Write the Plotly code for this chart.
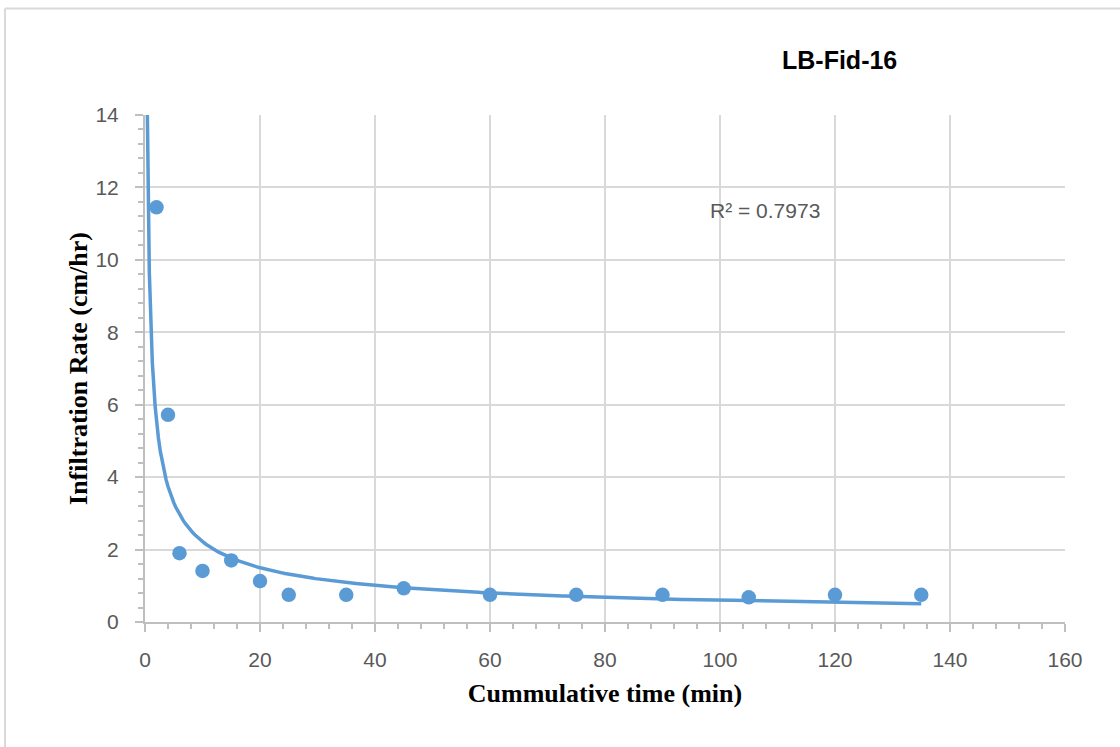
import numpy as np
import plotly.graph_objects as go

# Cumulative time (min) and measured infiltration rate (cm/hr)
time_min = [2, 4, 6, 10, 15, 20, 25, 35, 45, 60, 75, 90, 105, 120, 135]
rate_cmhr = [11.45, 5.72, 1.9, 1.41, 1.7, 1.13, 0.75, 0.75, 0.93, 0.75, 0.75, 0.75, 0.68, 0.75, 0.75]
r2_label = "R² = 0.7973"
chart_title = "LB-Fid-16"

# Power-law trendline y = a * x^b fitted in log space
b, ln_a = np.polyfit(np.log(time_min), np.log(rate_cmhr), 1)
a = np.exp(ln_a)
x_fit = np.concatenate([np.linspace(0.05, 2, 200), np.linspace(2, max(time_min), 400)])
y_fit = a * x_fit ** b

blue = "#5b9bd5"
grid = "#d9d9d9"
axis_gray = "#bfbfbf"

fig = go.Figure()
fig.add_trace(go.Scatter(x=x_fit, y=y_fit, mode="lines",
                         line=dict(color=blue, width=3.5), hoverinfo="skip"))
fig.add_trace(go.Scatter(x=time_min, y=rate_cmhr, mode="markers",
                         marker=dict(color=blue, size=14.5)))

tick_font = dict(family="Liberation Sans, Arial", size=21, color="#595959")
title_font = dict(family="Liberation Serif, Times New Roman", size=26, color="black")

fig.update_layout(
    width=1120, height=747,
    margin=dict(l=145, r=55, t=115, b=125),
    paper_bgcolor="white", plot_bgcolor="white",
    showlegend=False,
    xaxis=dict(range=[0, 160], dtick=20, tick0=0, showgrid=True, gridcolor=grid, gridwidth=1.5,
               showline=True, linecolor=axis_gray, linewidth=2, zeroline=False,
               ticks="outside", ticklen=8, tickcolor=axis_gray, tickwidth=2,
               minor=dict(dtick=4, ticks="outside", ticklen=5, tickcolor=axis_gray, tickwidth=1.5, showgrid=False),
               tickfont=tick_font, ticklabelstandoff=10,
               title=dict(text="<b>Cummulative time (min)</b>", font=title_font, standoff=14)),
    yaxis=dict(range=[0, 14], dtick=2, tick0=0, showgrid=True, gridcolor=grid, gridwidth=1.5,
               showline=True, linecolor=axis_gray, linewidth=2, zeroline=False,
               ticks="outside", ticklen=8, tickcolor=axis_gray, tickwidth=2,
               minor=dict(dtick=0.4, ticks="outside", ticklen=5, tickcolor=axis_gray, tickwidth=1.5, showgrid=False),
               tickfont=tick_font, ticklabelstandoff=12,
               title=dict(text="<b>Infiltration Rate (cm/hr)</b>", font=title_font, standoff=0)),
    annotations=[
        dict(text=f"<b>{chart_title}</b>", x=(839 - 145) / 920, y=(622 - 60) / 507,
             xref="paper", yref="paper", showarrow=False, xanchor="center", yanchor="middle",
             font=dict(family="Liberation Sans, Arial", size=25, color="black")),
        dict(text=r2_label, x=107.8, y=11.35, xref="x", yref="y", showarrow=False,
             xanchor="center", yanchor="middle",
             font=dict(family="Liberation Sans, Arial", size=21, color="#595959")),
    ],
    shapes=[
        dict(type="line", xref="paper", yref="paper",
             x0=(5 - 145) / 920, x1=(1125 - 145) / 920, y0=(622 - 8.5) / 507, y1=(622 - 8.5) / 507,
             line=dict(color=grid, width=2)),
        dict(type="line", xref="paper", yref="paper",
             x0=(5 - 145) / 920, x1=(5 - 145) / 920, y0=(622 - 8.5) / 507, y1=(622 - 752) / 507,
             line=dict(color=grid, width=2)),
    ],
)

fig.write_html("out.html")
